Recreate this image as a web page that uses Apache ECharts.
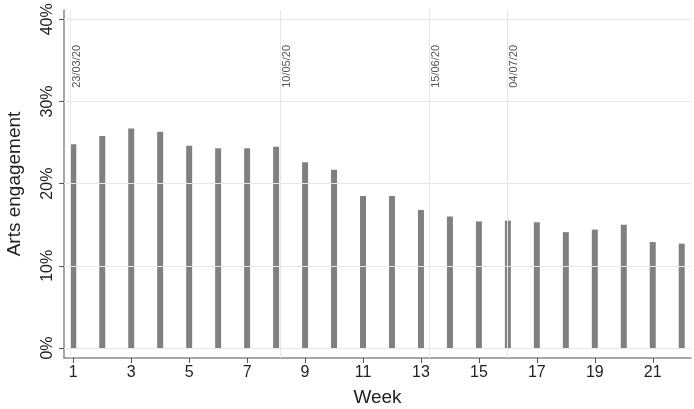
<!DOCTYPE html>
<html>
<head>
<meta charset="utf-8">
<script src="https://cdn.jsdelivr.net/npm/echarts@6/dist/echarts.min.js"></script>
<style>
  html, body { margin: 0; padding: 0; background: #fff; }
  #main { width: 694px; height: 409px; }
</style>
</head>
<body>
<div id="main"></div>
<script>
// weekly arts engagement (%)
var weeks = [1, 2, 3, 4, 5, 6, 7, 8, 9, 10, 11, 12, 13, 14, 15, 16, 17, 18, 19, 20, 21, 22];
var engagement = [24.8, 25.8, 26.7, 26.3, 24.6, 24.3, 24.3, 24.5, 22.6, 21.7, 18.5,
                  18.5, 16.8, 16.0, 15.4, 15.5, 15.3, 14.1, 14.4, 15.0, 12.9, 12.7];
var weekTicks = [1, 3, 5, 7, 9, 11, 13, 15, 17, 19, 21];
var pctTicks = [0, 10, 20, 30, 40];
// dates marked with vertical lines (position in weeks)
var eventDates = ['23/03/20', '10/05/20', '15/06/20', '04/07/20'];
var eventWeeks = [0.91, 8.16, 13.29, 15.99];

var chart = echarts.init(document.getElementById('main'));

var fontFam = 'Liberation Sans, Arial, sans-serif';

var option = {
  animation: false,
  backgroundColor: '#fff',
  grid: { left: 64, right: 3, top: 10, bottom: 51, containLabel: false, outerBoundsMode: 'none' },
  xAxis: {
    type: 'value',
    min: 0.68,
    max: 22.32,
    name: 'Week',
    nameLocation: 'middle',
    nameGap: 30,
    nameTextStyle: { fontSize: 19, color: '#222', fontFamily: fontFam },
    axisLine: { show: true, onZero: false, lineStyle: { color: '#8a8a8a', width: 1.5 } },
    axisTick: { show: true, length: 5, customValues: weekTicks, lineStyle: { color: '#555' } },
    axisLabel: { customValues: weekTicks, margin: 7, fontSize: 16, color: '#222', fontFamily: fontFam },
    splitLine: { show: false }
  },
  yAxis: {
    type: 'value',
    min: -1.22,
    max: 41.13,
    name: 'Arts engagement',
    nameLocation: 'middle',
    nameGap: 40,
    nameTextStyle: { fontSize: 19, color: '#222', fontFamily: fontFam },
    axisLine: { show: true, onZero: false, lineStyle: { color: '#8a8a8a', width: 1.5 } },
    axisTick: { show: true, length: 5, customValues: pctTicks, lineStyle: { color: '#555' } },
    axisLabel: {
      customValues: pctTicks,
      rotate: 90,
      margin: 8,
      fontSize: 16,
      color: '#222',
      fontFamily: fontFam,
      formatter: '{value}%'
    },
    splitLine: { show: false }
  },
  series: [
    {
      type: 'line',
      data: [],
      z: 1,
      silent: true,
      markLine: {
        silent: true,
        symbol: 'none',
        animation: false,
        lineStyle: { color: '#e6e6e6', type: 'solid', width: 1 },
        data: pctTicks.map(function (v) {
          return { yAxis: v, label: { show: false } };
        }).concat(eventWeeks.map(function (w, i) {
          return {
            xAxis: w,
            label: {
              show: true,
              formatter: eventDates[i],
              position: 'insideEndBottom',
              distance: [35, 1],
              fontSize: 11,
              color: '#555',
              fontFamily: fontFam
            }
          };
        }))
      }
    },
    {
      type: 'bar',
      z: 2,
      barWidth: 6,
      itemStyle: { color: '#808080' },
      data: weeks.map(function (w, i) { return [w, engagement[i]]; })
    }
  ]
};

chart.setOption(option);
</script>
</body>
</html>
